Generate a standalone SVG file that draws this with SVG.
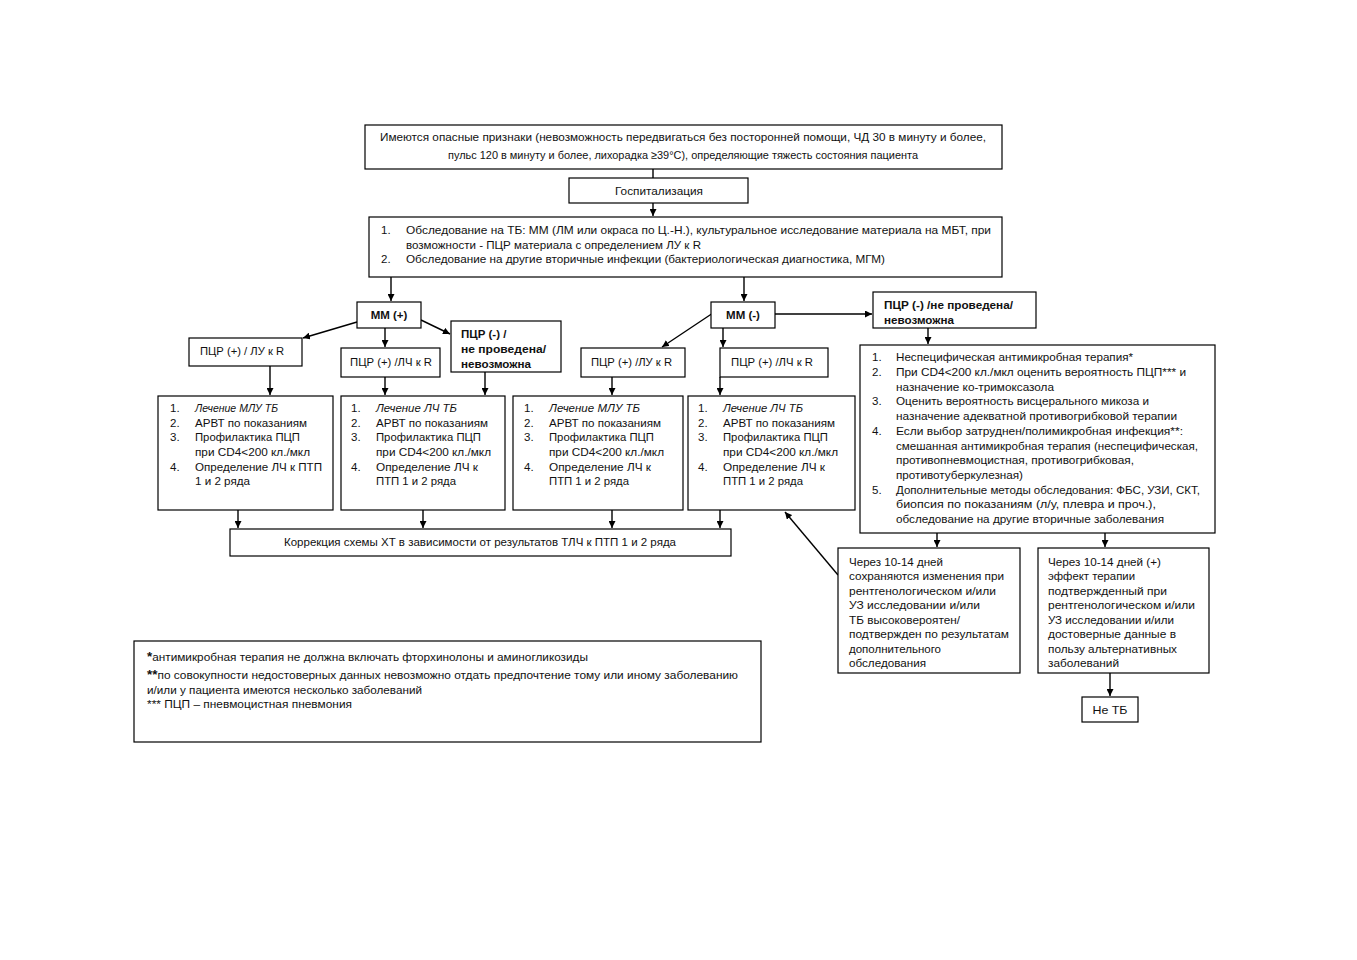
<svg xmlns="http://www.w3.org/2000/svg" width="1357" height="960" viewBox="0 0 1357 960">
<style>
.b{fill:#fff;stroke:#000;stroke-width:1.2}
text{font-family:"Liberation Sans",Arial,sans-serif;font-size:11.5px;fill:#111}
.bd{font-weight:bold}
.it{font-style:italic}
.c{text-anchor:middle}
.ln{stroke:#000;stroke-width:1.4;fill:none}
</style>
<defs>
<marker id="ah" viewBox="0 0 10 10" refX="10" refY="5" markerWidth="7" markerHeight="7" markerUnits="userSpaceOnUse" orient="auto">
<path d="M0,0 L10,5 L0,10 z" fill="#000"/>
</marker>
</defs>
<rect width="1357" height="960" fill="#fff"/>

<g id="connectors">
<line class="ln" x1="653" y1="169" x2="653" y2="178"/>
<line class="ln" x1="653" y1="203" x2="653" y2="216" marker-end="url(#ah)"/>
<line class="ln" x1="391" y1="277" x2="391" y2="301" marker-end="url(#ah)"/>
<line class="ln" x1="744" y1="277" x2="744" y2="301" marker-end="url(#ah)"/>
<line class="ln" x1="357" y1="322" x2="303" y2="338" marker-end="url(#ah)"/>
<line class="ln" x1="385" y1="328" x2="385" y2="347" marker-end="url(#ah)"/>
<line class="ln" x1="421" y1="320" x2="450" y2="334" marker-end="url(#ah)"/>
<line class="ln" x1="270" y1="366" x2="270" y2="395" marker-end="url(#ah)"/>
<line class="ln" x1="385" y1="377" x2="385" y2="395" marker-end="url(#ah)"/>
<line class="ln" x1="485" y1="372" x2="485" y2="395" marker-end="url(#ah)"/>
<line class="ln" x1="713" y1="313" x2="662" y2="347" marker-end="url(#ah)"/>
<line class="ln" x1="723" y1="328" x2="723" y2="347" marker-end="url(#ah)"/>
<line class="ln" x1="775" y1="314" x2="872" y2="314" marker-end="url(#ah)"/>
<line class="ln" x1="928" y1="328" x2="928" y2="344" marker-end="url(#ah)"/>
<line class="ln" x1="612" y1="377" x2="612" y2="395" marker-end="url(#ah)"/>
<line class="ln" x1="720" y1="377" x2="720" y2="395" marker-end="url(#ah)"/>
<line class="ln" x1="238" y1="510" x2="238" y2="528" marker-end="url(#ah)"/>
<line class="ln" x1="423" y1="510" x2="423" y2="528" marker-end="url(#ah)"/>
<line class="ln" x1="612" y1="510" x2="612" y2="528" marker-end="url(#ah)"/>
<line class="ln" x1="720" y1="510" x2="720" y2="528" marker-end="url(#ah)"/>
<line class="ln" x1="937" y1="533" x2="937" y2="547" marker-end="url(#ah)"/>
<line class="ln" x1="1105" y1="533" x2="1105" y2="547" marker-end="url(#ah)"/>
<line class="ln" x1="1110" y1="673" x2="1110" y2="696" marker-end="url(#ah)"/>
<line class="ln" x1="838" y1="575" x2="785" y2="512" marker-end="url(#ah)"/>
</g>

<g id="signs">
<rect class="b" x="365" y="125" width="637" height="44"/>
<text class="c" x="683" y="141" textLength="606" lengthAdjust="spacingAndGlyphs">Имеются опасные признаки (невозможность передвигаться без посторонней помощи, ЧД 30 в минуту и более,</text>
<text class="c" x="683" y="159" textLength="470" lengthAdjust="spacingAndGlyphs">пульс 120 в минуту и более, лихорадка ≥39°C), определяющие тяжесть состояния пациента</text>
</g>

<g id="hosp">
<rect class="b" x="569" y="178" width="179" height="25"/>
<text class="c" x="659" y="195" textLength="88" lengthAdjust="spacingAndGlyphs">Госпитализация</text>
</g>

<g id="exam">
<rect class="b" x="369" y="217" width="633" height="60"/>
<text x="381" y="234">1.</text>
<text x="406" y="234" textLength="585" lengthAdjust="spacingAndGlyphs">Обследование на ТБ: ММ (ЛМ или окраса по Ц.-Н.), культуральное исследование материала на МБТ, при</text>
<text x="406" y="249" textLength="295" lengthAdjust="spacingAndGlyphs">возможности - ПЦР материала с определением ЛУ к R</text>
<text x="381" y="263">2.</text>
<text x="406" y="263" textLength="479" lengthAdjust="spacingAndGlyphs">Обследование на другие вторичные инфекции (бактериологическая диагностика, МГМ)</text>
</g>

<g id="mmplus">
<rect class="b" x="357" y="302" width="64" height="26"/>
<text class="c bd" x="389" y="319">ММ (+)</text>
</g>

<g id="pcr-lu-1">
<rect class="b" x="189" y="338" width="113" height="28"/>
<text x="200" y="355" textLength="84" lengthAdjust="spacingAndGlyphs">ПЦР (+) / ЛУ к R</text>
</g>

<g id="pcr-lch-1">
<rect class="b" x="341" y="348" width="99" height="29"/>
<text x="350" y="366" textLength="82" lengthAdjust="spacingAndGlyphs">ПЦР (+) /ЛЧ к R</text>
</g>

<g id="pcr-neg-1">
<rect class="b" x="451" y="321" width="110" height="51"/>
<text class="bd" x="461" y="338">ПЦР (-) /</text>
<text class="bd" x="461" y="353" textLength="85" lengthAdjust="spacingAndGlyphs">не проведена/</text>
<text class="bd" x="461" y="368" textLength="70" lengthAdjust="spacingAndGlyphs">невозможна</text>
</g>

<g id="mmminus">
<rect class="b" x="711" y="302" width="64" height="26"/>
<text class="c bd" x="743" y="319">ММ (-)</text>
</g>

<g id="pcr-lu-2">
<rect class="b" x="581" y="348" width="104" height="29"/>
<text x="591" y="366" textLength="81" lengthAdjust="spacingAndGlyphs">ПЦР (+) /ЛУ к R</text>
</g>

<g id="pcr-lch-2">
<rect class="b" x="720" y="348" width="108" height="29"/>
<text x="731" y="366" textLength="82" lengthAdjust="spacingAndGlyphs">ПЦР (+) /ЛЧ к R</text>
</g>

<g id="pcr-neg-2">
<rect class="b" x="873" y="292" width="163" height="36"/>
<text class="bd" x="884" y="309" textLength="129" lengthAdjust="spacingAndGlyphs">ПЦР (-) /не  проведена/</text>
<text class="bd" x="884" y="324" textLength="70" lengthAdjust="spacingAndGlyphs">невозможна</text>
</g>

<g id="treat1">
<rect class="b" x="158" y="396" width="175" height="114"/>
<text x="170" y="412">1.</text><text class="it" x="195" y="412" textLength="83" lengthAdjust="spacingAndGlyphs">Лечение МЛУ ТБ</text>
<text x="170" y="427">2.</text><text x="195" y="427" textLength="112" lengthAdjust="spacingAndGlyphs">АРВТ по показаниям</text>
<text x="170" y="441">3.</text><text x="195" y="441" textLength="105" lengthAdjust="spacingAndGlyphs">Профилактика ПЦП</text>
<text x="195" y="456" textLength="115" lengthAdjust="spacingAndGlyphs">при CD4&lt;200 кл./мкл</text>
<text x="170" y="471">4.</text><text x="195" y="471" textLength="127" lengthAdjust="spacingAndGlyphs">Определение ЛЧ к ПТП</text>
<text x="195" y="485" textLength="55" lengthAdjust="spacingAndGlyphs">1 и 2 ряда</text>
</g>

<g id="treat2">
<rect class="b" x="341" y="396" width="164" height="114"/>
<text x="351" y="412">1.</text><text class="it" x="376" y="412" textLength="81" lengthAdjust="spacingAndGlyphs">Лечение ЛЧ ТБ</text>
<text x="351" y="427">2.</text><text x="376" y="427" textLength="112" lengthAdjust="spacingAndGlyphs">АРВТ по показаниям</text>
<text x="351" y="441">3.</text><text x="376" y="441" textLength="105" lengthAdjust="spacingAndGlyphs">Профилактика ПЦП</text>
<text x="376" y="456" textLength="115" lengthAdjust="spacingAndGlyphs">при CD4&lt;200 кл./мкл</text>
<text x="351" y="471">4.</text><text x="376" y="471" textLength="102" lengthAdjust="spacingAndGlyphs">Определение ЛЧ к</text>
<text x="376" y="485" textLength="80" lengthAdjust="spacingAndGlyphs">ПТП 1 и 2 ряда</text>
</g>

<g id="treat3">
<rect class="b" x="513" y="396" width="170" height="114"/>
<text x="524" y="412">1.</text><text class="it" x="549" y="412" textLength="91" lengthAdjust="spacingAndGlyphs">Лечение МЛУ ТБ</text>
<text x="524" y="427">2.</text><text x="549" y="427" textLength="112" lengthAdjust="spacingAndGlyphs">АРВТ по показаниям</text>
<text x="524" y="441">3.</text><text x="549" y="441" textLength="105" lengthAdjust="spacingAndGlyphs">Профилактика ПЦП</text>
<text x="549" y="456" textLength="115" lengthAdjust="spacingAndGlyphs">при CD4&lt;200 кл./мкл</text>
<text x="524" y="471">4.</text><text x="549" y="471" textLength="102" lengthAdjust="spacingAndGlyphs">Определение ЛЧ к</text>
<text x="549" y="485" textLength="80" lengthAdjust="spacingAndGlyphs">ПТП 1 и 2 ряда</text>
</g>

<g id="treat4">
<rect class="b" x="688" y="396" width="167" height="114"/>
<text x="698" y="412">1.</text><text class="it" x="723" y="412" textLength="80" lengthAdjust="spacingAndGlyphs">Лечение ЛЧ ТБ</text>
<text x="698" y="427">2.</text><text x="723" y="427" textLength="112" lengthAdjust="spacingAndGlyphs">АРВТ по показаниям</text>
<text x="698" y="441">3.</text><text x="723" y="441" textLength="105" lengthAdjust="spacingAndGlyphs">Профилактика ПЦП</text>
<text x="723" y="456" textLength="115" lengthAdjust="spacingAndGlyphs">при CD4&lt;200 кл./мкл</text>
<text x="698" y="471">4.</text><text x="723" y="471" textLength="102" lengthAdjust="spacingAndGlyphs">Определение ЛЧ к</text>
<text x="723" y="485" textLength="80" lengthAdjust="spacingAndGlyphs">ПТП 1 и 2 ряда</text>
</g>

<g id="correction">
<rect class="b" x="230" y="529" width="501" height="27"/>
<text class="c" x="480" y="546" textLength="392" lengthAdjust="spacingAndGlyphs">Коррекция схемы ХТ в зависимости от результатов ТЛЧ к  ПТП 1 и 2 ряда</text>
</g>

<g id="nonspecific">
<rect class="b" x="860" y="345" width="355" height="188"/>
<text x="872" y="361">1.</text><text x="896" y="361" textLength="237" lengthAdjust="spacingAndGlyphs">Неспецифическая антимикробная терапия*</text>
<text x="872" y="376">2.</text><text x="896" y="376" textLength="290" lengthAdjust="spacingAndGlyphs">При CD4&lt;200 кл./мкл оценить вероятность ПЦП*** и</text>
<text x="896" y="391" textLength="158" lengthAdjust="spacingAndGlyphs">назначение ко-тримоксазола</text>
<text x="872" y="405">3.</text><text x="896" y="405" textLength="253" lengthAdjust="spacingAndGlyphs">Оценить вероятность висцерального микоза и</text>
<text x="896" y="420" textLength="281" lengthAdjust="spacingAndGlyphs">назначение адекватной противогрибковой терапии</text>
<text x="872" y="435">4.</text><text x="896" y="435" textLength="287" lengthAdjust="spacingAndGlyphs">Если выбор затруднен/полимикробная инфекция**:</text>
<text x="896" y="450" textLength="302" lengthAdjust="spacingAndGlyphs">смешанная антимикробная терапия (неспецифическая,</text>
<text x="896" y="464" textLength="238" lengthAdjust="spacingAndGlyphs">противопневмоцистная, противогрибковая,</text>
<text x="896" y="479" textLength="127" lengthAdjust="spacingAndGlyphs">противотуберкулезная)</text>
<text x="872" y="494">5.</text><text x="896" y="494" textLength="304" lengthAdjust="spacingAndGlyphs">Дополнительные методы обследования: ФБС, УЗИ, СКТ,</text>
<text x="896" y="508" textLength="260" lengthAdjust="spacingAndGlyphs">биопсия по показаниям (л/у, плевра и проч.),</text>
<text x="896" y="523" textLength="268" lengthAdjust="spacingAndGlyphs">обследование на другие вторичные заболевания</text>
</g>

<g id="persist">
<rect class="b" x="838" y="548" width="182" height="125"/>
<text x="849" y="566" textLength="94" lengthAdjust="spacingAndGlyphs">Через 10-14 дней</text>
<text x="849" y="580" textLength="155" lengthAdjust="spacingAndGlyphs">сохраняются изменения при</text>
<text x="849" y="595" textLength="147" lengthAdjust="spacingAndGlyphs">рентгенологическом и/или</text>
<text x="849" y="609" textLength="131" lengthAdjust="spacingAndGlyphs">УЗ исследовании  и/или</text>
<text x="849" y="624" textLength="111" lengthAdjust="spacingAndGlyphs">ТБ высоковероятен/</text>
<text x="849" y="638" textLength="160" lengthAdjust="spacingAndGlyphs">подтвержден по результатам</text>
<text x="849" y="653" textLength="92" lengthAdjust="spacingAndGlyphs">дополнительного</text>
<text x="849" y="667" textLength="77" lengthAdjust="spacingAndGlyphs">обследования</text>
</g>

<g id="effect">
<rect class="b" x="1038" y="548" width="171" height="125"/>
<text x="1048" y="566" textLength="113" lengthAdjust="spacingAndGlyphs">Через 10-14 дней (+)</text>
<text x="1048" y="580" textLength="87" lengthAdjust="spacingAndGlyphs">эффект терапии</text>
<text x="1048" y="595" textLength="119" lengthAdjust="spacingAndGlyphs">подтвержденный при</text>
<text x="1048" y="609" textLength="147" lengthAdjust="spacingAndGlyphs">рентгенологическом и/или</text>
<text x="1048" y="624" textLength="126" lengthAdjust="spacingAndGlyphs">УЗ исследовании и/или</text>
<text x="1048" y="638" textLength="128" lengthAdjust="spacingAndGlyphs">достоверные данные в</text>
<text x="1048" y="653" textLength="129" lengthAdjust="spacingAndGlyphs">пользу альтернативных</text>
<text x="1048" y="667" textLength="71" lengthAdjust="spacingAndGlyphs">заболеваний</text>
</g>

<g id="notb">
<rect class="b" x="1082" y="697" width="56" height="25"/>
<text class="c" x="1110" y="714" textLength="35" lengthAdjust="spacingAndGlyphs">Не ТБ</text>
</g>

<g id="footnotes">
<rect class="b" x="134" y="641" width="627" height="101"/>
<text x="147" y="661" textLength="441" lengthAdjust="spacingAndGlyphs"><tspan font-size="13" font-weight="bold">*</tspan>антимикробная терапия не должна включать фторхинолоны и аминогликозиды</text>
<text x="147" y="679" textLength="591" lengthAdjust="spacingAndGlyphs"><tspan font-size="13" font-weight="bold">**</tspan>по совокупности недостоверных данных невозможно отдать предпочтение тому или иному заболеванию</text>
<text x="147" y="694" textLength="275" lengthAdjust="spacingAndGlyphs">и/или у пациента имеются несколько заболеваний</text>
<text x="147" y="708" textLength="205" lengthAdjust="spacingAndGlyphs">*** ПЦП – пневмоцистная пневмония</text>
</g>
</svg>
